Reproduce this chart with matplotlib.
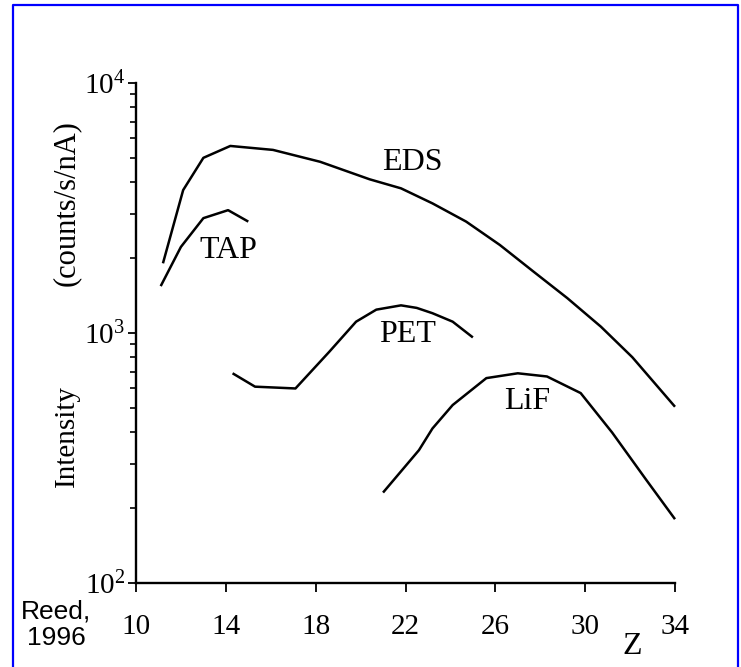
import numpy as np
import matplotlib
matplotlib.use("Agg")
import matplotlib.pyplot as plt
from matplotlib.lines import Line2D
from matplotlib.ticker import FixedLocator, LogLocator, NullFormatter, FuncFormatter

# intensity (counts/s/nA) against atomic number Z, read for each spectrometer
eds_z = [11.2, 12.1, 13.0, 14.2, 16.1, 18.2, 20.4, 21.8, 23.2, 24.7, 26.2, 27.7, 29.2, 30.7, 32.1, 34.0]
eds_i = [1900, 3730, 5020, 5600, 5400, 4840, 4120, 3790, 3300, 2790, 2250, 1760, 1380, 1060, 800, 507]

tap_z = [11.1, 12.0, 13.0, 14.1, 15.0]
tap_i = [1540, 2210, 2880, 3100, 2790]

pet_z = [14.3, 15.3, 17.1, 18.6, 19.8, 20.7, 21.8, 22.5, 23.2, 24.1, 25.0]
pet_i = [690, 610, 600, 840, 1110, 1240, 1290, 1260, 1200, 1110, 960]

lif_z = [21.0, 22.6, 23.2, 24.1, 25.6, 27.0, 28.3, 29.8, 31.2, 32.7, 34.0]
lif_i = [230, 340, 415, 515, 660, 690, 670, 575, 400, 260, 180]

# curve names and where they are written
names = ["EDS", "TAP", "PET", "LiF"]
name_z = [22.3, 14.1, 22.1, 27.4]
name_i = [4790, 2130, 990, 530]

x_ticks = [10, 14, 18, 22, 26, 30, 34]

serif = "Liberation Serif"
plt.rcParams["font.family"] = [serif, "DejaVu Serif"]
plt.rcParams["mathtext.fontset"] = "custom"
plt.rcParams["mathtext.rm"] = serif
plt.rcParams["mathtext.it"] = serif + ":italic"

W, H = 741, 667
fig = plt.figure(figsize=(W / 100, H / 100), dpi=100)
ax = fig.add_axes([136 / W, 1 - 583 / H, (675 - 136) / W, (583 - 83) / H])

for z, i in [(eds_z, eds_i), (tap_z, tap_i), (pet_z, pet_i), (lif_z, lif_i)]:
    ax.plot(z, i, color="black", lw=1.8, solid_capstyle="butt",
            solid_joinstyle="round", clip_on=False)

for n, z, i in zip(names, name_z, name_i):
    ax.text(z, i, n, fontsize=23, ha="center", va="center")

ax.set_yscale("log")
ax.set_xlim(10, 34)
ax.set_ylim(100, 10000)

ax.spines["top"].set_visible(False)
ax.spines["right"].set_visible(False)
for s in ["left", "bottom"]:
    ax.spines[s].set_linewidth(1.7)

ax.xaxis.set_major_locator(FixedLocator(x_ticks))
ax.tick_params(axis="x", direction="out", length=6.5, width=1.3, pad=16, labelsize=21)
ax.yaxis.set_major_locator(LogLocator(base=10, numticks=5))
ax.yaxis.set_minor_locator(LogLocator(base=10, subs=np.arange(2, 10), numticks=20))
ax.yaxis.set_minor_formatter(NullFormatter())
ax.yaxis.set_major_formatter(FuncFormatter(lambda v, _: "$10^{%d}$" % round(np.log10(v))))
ax.tick_params(axis="y", which="major", direction="out", length=6, width=1.3, pad=2, labelsize=21)
ax.tick_params(axis="y", which="minor", direction="out", length=4.5, width=1.2)

# axis titles
fig.text(67 / W, 1 - 436 / H, "Intensity", rotation=90, fontsize=21, ha="center", va="center")
fig.text(66 / W, 1 - 203 / H, "(counts/s/nA)", rotation=90, fontsize=22, ha="center", va="center")
fig.text(632 / W, 1 - 646 / H, "Z", fontsize=23, ha="center", va="center")

# source
fig.text(56 / W, 1 - 625 / H, "Reed,\n1996", fontsize=19, family="Liberation Sans",
         ha="center", va="center", multialignment="center", linespacing=1.15)

# blue frame
fx = [13 / W, 13 / W, 738 / W, 738 / W]
fy = [-0.05, 1 - 5 / H, 1 - 5 / H, -0.05]
fig.add_artist(Line2D(fx, fy, color="#0000ff", lw=1.6, transform=fig.transFigure))

fig.savefig("out.png", dpi=100)
